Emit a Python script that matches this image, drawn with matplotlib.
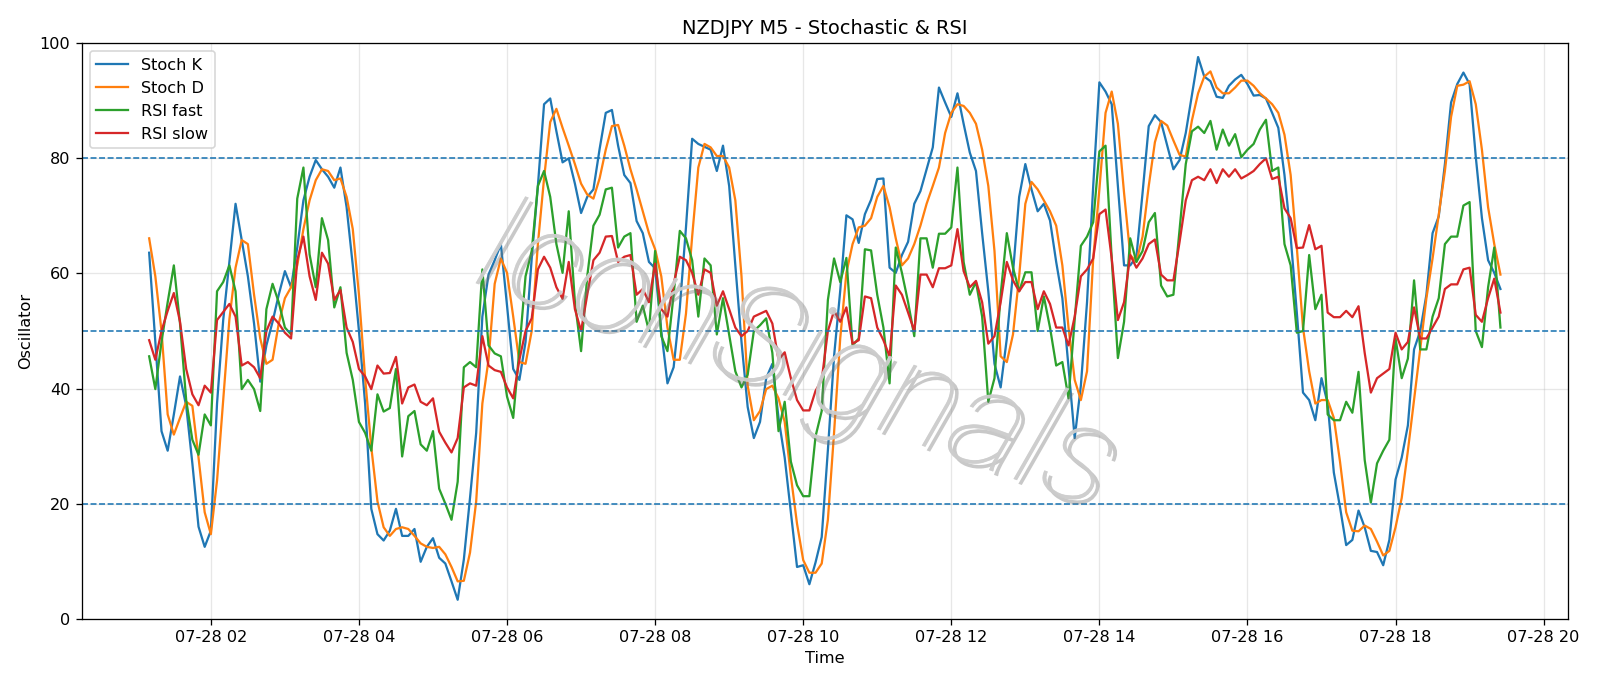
import matplotlib
matplotlib.use("Agg")
import matplotlib.pyplot as plt
import matplotlib.dates as mdates
import matplotlib.patheffects as pe
import pandas as pd

# M5 bars, 07-28 01:10 -> 19:25
times = pd.date_range("2025-07-28 01:10", periods=220, freq="5min")

stoch_k = [
    63.6, 48, 32.6, 29.2, 35.5, 42.1, 37, 27, 16, 12.5,
    15.3, 37.4, 51.9, 62, 72.1, 65.8, 59.5, 51.3, 41.2, 47.5,
    51.6, 56.3, 60.4, 57.6, 64.5, 72.7, 76.8, 79.7, 78.1, 76.8,
    74.9, 78.4, 71.5, 61.4, 50, 37.4, 19.1, 14.7, 13.6, 15.3,
    19.1, 14.4, 14.4, 15.6, 9.9, 12.5, 14, 10.6, 9.6, 6.5,
    3.3, 10.3, 21, 32.3, 52.5, 59.8, 62.3, 65.1, 54.4, 43.4,
    41.5, 48.1, 62.6, 75.2, 89.4, 90.4, 84.7, 79.3, 80, 75.6,
    70.5, 73.3, 74.6, 81.6, 87.9, 88.4, 82.2, 77.1, 75.7, 69.1,
    67, 62, 60.9, 50, 40.9, 43.7, 54, 68, 83.4, 82.5,
    82, 81.5, 77.8, 82.2, 75.2, 61.4, 48.1, 36.8, 31.4, 34.2,
    41.8, 44.3, 34.9, 28, 18.5, 9, 9.3, 6, 9.8, 14.2,
    29.3, 45.6, 57, 70.1, 69.4, 65.3, 70.3, 72.8, 76.4, 76.5,
    61, 60.1, 63.2, 65.5, 72.1, 74.3, 78.1, 81.9, 92.3, 89.7,
    87.2, 91.3, 86, 81, 77.8, 67, 56.9, 44.3, 40.2, 48.7,
    60.1, 73.3, 79, 74.6, 70.8, 72.1, 69.2, 62, 55.7, 43.7,
    31.4, 40.5, 55, 75.2, 93.2, 91.6, 89.4, 75.2, 61.4, 61.4,
    62.9, 74, 85.6, 87.5, 86.3, 82.2, 78.1, 79.7, 84.4, 91,
    97.6, 94.2, 93.4, 90.7, 90.5, 92.6, 93.7, 94.5, 92.9, 90.9,
    91, 90.4, 87.9, 85.3, 77.1, 66.4, 53.2, 39.3, 38, 34.5,
    41.8, 37.4, 25.4, 19.4, 12.8, 13.7, 18.8, 15.9, 11.8, 11.6,
    9.3, 13.7, 24.2, 28, 33.6, 46.8, 50, 56.3, 67, 69.9,
    79, 89.7, 92.9, 94.9, 92.9, 80.3, 69.6, 62.3, 60.1, 57.3,
]

stoch_d = [
    66.1, 59.5, 50, 35.5, 32, 34.9, 37.7, 37, 28, 18.5,
    14.7, 24, 38, 52, 61, 65.8, 65.1, 56.3, 48.7, 44.3,
    45, 51.3, 55.7, 57.6, 61.4, 67.7, 72.7, 76.2, 78.1, 77.8,
    76.2, 76.5, 73.3, 67.7, 56.3, 41.8, 29.8, 20.4, 15.9, 14.4,
    15.6, 15.9, 15.6, 14.4, 13.1, 12.5, 12.3, 12.5, 11.2, 9,
    6.5, 6.6, 11.5, 20.4, 37.4, 45, 58.2, 62.6, 60.1, 52.5,
    44.6, 44.3, 50, 65.1, 76.5, 86.3, 88.6, 85.3, 82.2, 79,
    75.6, 73.7, 73, 76.5, 81.5, 85.6, 85.8, 82.2, 78.1, 74.6,
    70.8, 67, 64.2, 59.5, 50.6, 45, 45, 53, 66.4, 78.4,
    82.5, 81.9, 80.4, 80.4, 78.4, 72.7, 59.5, 40.5, 34.5, 36.1,
    39.9, 40.5, 38.3, 34.2, 24.8, 16.5, 10.2, 8, 8, 9.6,
    17.2, 32.3, 48.7, 60.1, 65.1, 68, 68.3, 69.6, 73.3, 75.2,
    71.5, 66.1, 61.4, 62.6, 65.1, 68.3, 72.1, 75.2, 78.4, 84.4,
    87.9, 89.4, 89.1, 87.9, 86, 81.5, 75.2, 63.9, 45.6, 44.6,
    49.4, 59.5, 72.1, 75.9, 74.6, 72.7, 70.8, 68.3, 61.4, 50.6,
    41.5, 38, 43, 62.6, 74.6, 87.9, 91.6, 86, 74, 63.2,
    62, 66.4, 75.2, 82.8, 86.5, 85.7, 83.1, 80.6, 80.3, 86.6,
    91.3, 94.2, 95.1, 92.3, 91.3, 91.3, 92.3, 93.5, 93.5, 92.6,
    91.3, 90.4, 89.4, 87.9, 84.1, 77.1, 64.5, 50.6, 43, 37.4,
    38, 38, 34.9, 27.3, 18.5, 15.3, 15.2, 16.2, 15.6, 13.4,
    11, 11.8, 15.9, 21, 29.2, 38, 46.8, 55.7, 62.6, 70.2,
    77.8, 87.2, 92.6, 92.8, 93.4, 89.4, 81.5, 71.5, 65.1, 59.8,
]

rsi_fast = [
    45.6, 39.9, 48.1, 55, 61.4, 51.3, 38, 31.1, 28.5, 35.5,
    33.6, 56.9, 58.5, 61.4, 56.9, 39.9, 41.5, 39.9, 36.1, 53.8,
    58.2, 55, 50.6, 49.4, 73, 78.4, 63.3, 57.6, 69.6, 65.8,
    54.1, 57.6, 46.2, 41.5, 34.2, 32.3, 29.2, 39, 36, 36.6,
    43.4, 28.2, 35.2, 36.1, 30.3, 29.2, 32.6, 22.6, 20, 17.2,
    23.8, 43.7, 44.6, 43.7, 60.7, 47.5, 46.1, 45.6, 38.6, 34.9,
    46.8, 59.5, 63.9, 75.2, 77.8, 73.3, 65.1, 60.1, 70.8, 55,
    46.5, 59.5, 68.3, 70.2, 74.6, 74.9, 64.5, 66.4, 67, 51.6,
    54.4, 50, 63.9, 49.1, 46.5, 56.3, 67.4, 66.1, 62.3, 52.5,
    62.6, 61.4, 49.4, 55.7, 49.4, 43, 40.2, 42.4, 50, 51,
    52.2, 46.2, 32.6, 37.7, 27.3, 23.2, 21.3, 21.3, 31.7, 36.1,
    55.4, 62.6, 58.5, 62.7, 47.5, 48.7, 64.2, 64, 56.3, 50.6,
    40.9, 64.5, 60.1, 55, 49.1, 66.1, 66.1, 61, 66.9, 66.9,
    68, 78.4, 62, 56.3, 58.5, 52.5, 37.7, 41.8, 56.3, 67,
    61, 56.9, 60.2, 60.2, 50, 56, 50.6, 44, 44.6, 38.3,
    52, 64.8, 66.4, 68.9, 81.2, 82.2, 62.6, 45.3, 51.6, 66.1,
    62, 63.9, 68.9, 70.5, 57.9, 56, 56.3, 67.7, 79, 84.7,
    85.5, 84.4, 86.5, 81.5, 85, 82.2, 84.2, 80.2, 81.5, 82.5,
    85, 86.7, 77.8, 78.4, 65.1, 61.4, 49.7, 50, 63.2, 53.8,
    56.3, 35.5, 34.5, 34.5, 37.7, 35.8, 42.9, 27.6, 20.2, 27,
    29.2, 31.1, 48.7, 41.8, 45.2, 58.8, 46.8, 46.8, 52.5, 55.7,
    65.1, 66.4, 66.4, 71.8, 72.4, 50, 47.2, 57.6, 64.5, 50.6,
]

rsi_slow = [
    48.4, 45, 50, 53.5, 56.6, 51.6, 43.4, 39, 37.1, 40.5,
    39.3, 51.9, 53.3, 54.7, 52.5, 44, 44.6, 43.7, 41.8, 50,
    52.5, 51.3, 49.7, 48.7, 62.3, 66.4, 59.5, 55.4, 63.6, 61.7,
    55.4, 57.1, 50.6, 48.1, 43.4, 42.1, 39.9, 44, 42.6, 42.7,
    45.5, 37.4, 40.2, 40.7, 37.7, 37.1, 38.3, 32.5, 30.6, 28.9,
    31.4, 40.2, 40.9, 40.5, 49.1, 44, 43.2, 42.9, 40.2, 38.3,
    45, 50, 52.2, 60.7, 62.9, 61, 57.6, 55.6, 62, 53.8,
    50, 56.3, 62.3, 63.6, 66.4, 66.5, 62, 62.9, 63.2, 56.3,
    57.3, 55, 61.7, 53.8, 52.5, 58.2, 62.9, 62.3, 60.1, 56.3,
    60.7, 60.1, 54.4, 56.9, 53.8, 50.6, 49.1, 50, 52.5, 53,
    53.5, 51.3, 45, 46.3, 41.8, 38, 36.2, 36.2, 39.6, 41.5,
    50, 53.5, 51.6, 54.1, 47.8, 48.4, 56, 55.7, 50.6, 48.4,
    45.6, 57.9, 56.3, 53.2, 50, 59.8, 59.8, 57.6, 60.9, 60.9,
    61.4, 67.7, 60.4, 57.6, 58.7, 55, 47.8, 49.1, 55, 62,
    58.8, 56.9, 58.5, 58.5, 53.8, 56.9, 54.7, 50.6, 50.6, 47.5,
    52.5, 59.5, 60.7, 62.6, 70.3, 71.1, 62.6, 51.9, 55, 63.2,
    61, 62.6, 65.1, 65.9, 59.8, 58.8, 58.8, 65.5, 72.7, 76.2,
    76.8, 76.2, 78.1, 75.7, 78.1, 76.8, 78.1, 76.5, 77.1, 77.8,
    79, 80, 76.4, 76.8, 71.3, 69.6, 64.4, 64.5, 68.4, 64.2,
    64.8, 53.2, 52.4, 52.4, 53.5, 52.4, 54.3, 46.2, 39.3, 41.8,
    42.6, 43.4, 49.7, 46.8, 48.1, 54.1, 48.7, 48.7, 50.6, 52.5,
    57.3, 58.1, 58.1, 60.7, 61, 52.8, 51.6, 55.7, 59.1, 53.2,
]

levels = [80, 50, 20]
watermark = "IconSignals"

# rendered a bit larger than 100 dpi so text matches the reference size
DPI = 116
fig, ax = plt.subplots(figsize=(1600 / DPI, 686 / DPI), dpi=DPI)
fig.subplots_adjust(left=0.051, right=0.98, top=0.937, bottom=0.098)

ax.plot(times, stoch_k, label="Stoch K", lw=1.4)
ax.plot(times, stoch_d, label="Stoch D", lw=1.4)
ax.plot(times, rsi_fast, label="RSI fast", lw=1.4)
ax.plot(times, rsi_slow, label="RSI slow", lw=1.4)

for lv in levels:
    ax.axhline(lv, color="C0", linestyle="--", lw=1.0)

ax.set_ylim(0, 100)
ax.xaxis.set_major_locator(mdates.HourLocator(interval=2))
ax.xaxis.set_major_formatter(mdates.DateFormatter("%m-%d %H"))
ax.grid(True, alpha=0.3)
ax.set_title("NZDJPY M5 - Stochastic & RSI")
ax.set_xlabel("Time")
ax.set_ylabel("Oscillator")
ax.legend(loc="upper left")

# faint diagonal watermark with a soft shadow
ax.text(0.48, 0.45, watermark, transform=ax.transAxes, fontsize=86,
        family=["Roboto", "DejaVu Sans"], weight="light", style="italic",
        color="#cccccc", alpha=0.8, rotation=-20,
        ha="center", va="center", zorder=10,
        path_effects=[pe.withSimplePatchShadow(offset=(3, -3), shadow_rgbFace="#777777", alpha=0.4),
                      pe.Normal()])

fig.savefig("out.png", dpi=DPI)
